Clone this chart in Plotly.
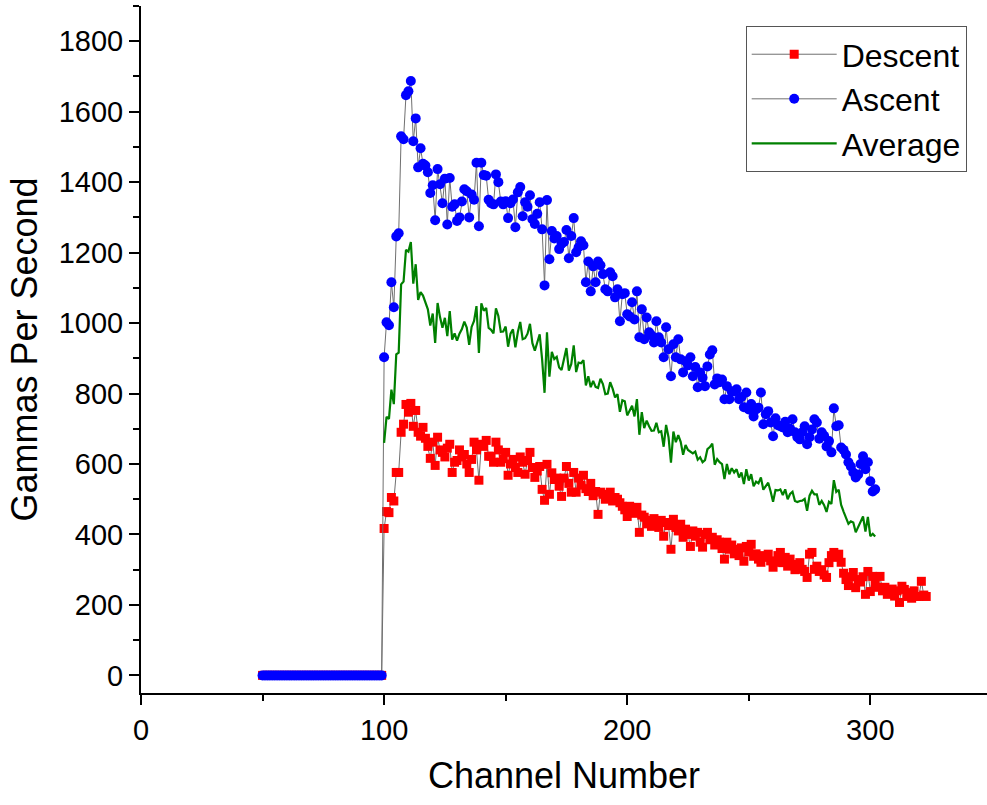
import plotly.graph_objects as go

# ---------------- data ----------------
zero_channels = list(range(50, 100))
zero_counts = [0, 0, 0, 0, 0, 0, 0, 0, 0, 0,
               0, 0, 0, 0, 0, 0, 0, 0, 0, 0,
               0, 0, 0, 0, 0, 0, 0, 0, 0, 0,
               0, 0, 0, 0, 0, 0, 0, 0, 0, 0,
               0, 0, 0, 0, 0, 0, 0, 0, 0, 0]

ascent_active = [
    903, 1002, 994, 1116, 1045, 1246, 1255, 1530, 1522, 1647,
    1658, 1687, 1516, 1581, 1442, 1496, 1452, 1447, 1428, 1369,
    1391, 1292, 1437, 1394, 1340, 1410, 1280, 1412, 1330, 1337,
    1290, 1300, 1345, 1380, 1374, 1300, 1365, 1350, 1455, 1275,
    1455, 1420, 1418, 1350, 1340, 1337, 1422, 1400, 1345, 1337,
    1346, 1298, 1340, 1351, 1272, 1371, 1386, 1303, 1343, 1330,
    1363, 1295, 1281, 1310, 1343, 1266, 1107, 1349, 1181, 1261,
    1240, 1247, 1210, 1225, 1230, 1264, 1184, 1247, 1298, 1201,
    1215, 1232, 1221, 1116, 1175, 1090, 1161, 1116, 1175, 1164,
    1139, 1096, 1090, 1144, 1133, 1073, 1096, 1005, 1082, 1085,
    1025, 1019, 1059, 1010, 1090, 960, 1039, 954, 1016, 974,
    965, 945, 1005, 960, 945, 903, 988, 926, 849, 940,
    903, 954, 897, 860, 892, 880, 903, 849, 875, 818,
    860, 845, 821, 877, 911, 923, 826, 843, 832, 840,
    784, 821, 784, 806, 806, 812, 784, 790, 761, 803,
    755, 770, 735, 755, 760, 803, 713, 741, 750, 718,
    679, 730, 710, 707, 704, 720, 690, 700, 727, 690,
    676, 670, 690, 707, 656, 676, 698, 727, 718, 672,
    690, 680, 650, 665, 633, 758, 707, 710, 647, 640,
    627, 605, 593, 576, 562, 570, 600, 622, 585, 605,
    551, 522, 528]

descent_active = [
    417, 465, 462, 505, 495, 576, 576, 690, 713, 769,
    747, 772, 707, 752, 690, 679, 704, 673, 650, 616,
    662, 596, 676, 640, 633, 620, 645, 656, 576, 605,
    610, 640, 620, 627, 600, 576, 613, 662, 640, 554,
    656, 650, 667, 622, 622, 605, 662, 640, 605, 615,
    633, 568, 600, 613, 590, 576, 620, 605, 571, 610,
    633, 590, 562, 580, 593, 528, 497, 599, 514, 575,
    556, 560, 537, 508, 560, 593, 545, 520, 576, 520,
    560, 540, 568, 530, 522, 545, 510, 522, 457, 520,
    514, 500, 510, 520, 495, 505, 500, 490, 480, 470,
    451, 480, 471, 460, 477, 406, 455, 449, 430, 440,
    423, 445, 429, 420, 440, 395, 434, 425, 358, 443,
    420, 410, 429, 392, 415, 400, 366, 410, 395, 406,
    378, 364, 400, 406, 385, 392, 370, 385, 378, 360,
    330, 378, 358, 370, 345, 358, 340, 362, 324, 366,
    350, 372, 338, 345, 330, 321, 340, 335, 344, 325,
    307, 321, 340, 349, 320, 335, 310, 330, 315, 300,
    307, 320, 301, 295, 278, 344, 349, 301, 310, 295,
    300, 285, 278, 320, 340, 349, 335, 344, 321, 290,
    272, 255, 280, 292, 249, 272, 265, 280, 230, 295,
    238, 281, 260, 250, 281, 240, 250, 230, 236, 245,
    225, 240, 207, 253, 244, 224, 235, 219, 240, 224,
    224, 267, 228, 224]

average_values = [
    660, 734, 728, 811, 770, 911, 916, 1110, 1118, 1208,
    1203, 1230, 1112, 1167, 1066, 1088, 1078, 1060, 1039, 993,
    1027, 944, 1057, 1017, 987, 1015, 963, 1034, 953, 971,
    950, 970, 983, 1004, 987, 938, 989, 1006, 1048, 915,
    1056, 1035, 1043, 986, 981, 971, 1042, 1020, 975, 976,
    990, 933, 970, 982, 931, 974, 1003, 954, 957, 970,
    998, 943, 922, 945, 968, 897, 802, 974, 848, 918,
    898, 904, 874, 867, 895, 929, 865, 884, 937, 861,
    888, 886, 895, 823, 849, 818, 836, 819, 816, 842,
    827, 798, 800, 832, 814, 789, 798, 748, 781, 778,
    738, 750, 765, 735, 784, 683, 747, 702, 723, 707,
    694, 695, 717, 690, 693, 649, 711, 676, 604, 692,
    662, 682, 663, 626, 654, 640, 635, 630, 635, 612,
    619, 605, 611, 642, 648, 658, 598, 614, 605, 600,
    557, 600, 571, 588, 576, 585, 562, 576, 543, 585,
    553, 571, 537, 550, 545, 562, 527, 538, 547, 522,
    493, 526, 525, 528, 512, 528, 500, 515, 521, 495,
    492, 495, 496, 501, 467, 510, 524, 514, 514, 484,
    495, 483, 464, 493, 487, 554, 521, 527, 484, 465,
    450, 430, 437, 434, 406, 421, 433, 451, 408, 450,
    395, 402, 394]

ascent_channels = zero_channels + list(range(100, 100 + len(ascent_active)))
ascent_counts = zero_counts + ascent_active
descent_channels = zero_channels + list(range(100, 100 + len(descent_active)))
descent_counts = zero_counts + descent_active
average_channels = list(range(100, 100 + len(average_values)))

x_ticks = [0, 100, 200, 300]
y_ticks = [0, 200, 400, 600, 800, 1000, 1200, 1400, 1600, 1800]

FONT = "Liberation Sans, Arial, sans-serif"
LINK = "#707070"

fig = go.Figure()
fig.add_trace(go.Scatter(
    x=descent_channels, y=descent_counts, name="Descent",
    mode="lines+markers",
    line=dict(color=LINK, width=1),
    marker=dict(symbol="square", color="#ff0000", size=9, line=dict(width=0)),
))
fig.add_trace(go.Scatter(
    x=ascent_channels, y=ascent_counts, name="Ascent",
    mode="lines+markers",
    line=dict(color=LINK, width=1),
    marker=dict(symbol="circle", color="#0000ff", size=10, line=dict(width=0)),
))
fig.add_trace(go.Scatter(
    x=average_channels, y=average_values, name="Average",
    mode="lines",
    line=dict(color="#008000", width=2.2),
))

axis_common = dict(
    showgrid=False, zeroline=False, showline=True, linecolor="black", linewidth=2,
    ticks="outside", ticklen=10, tickwidth=2, tickcolor="black",
    tickfont=dict(family=FONT, size=29, color="black"),
    mirror=False,
)

fig.update_layout(
    width=987, height=805,
    margin=dict(l=141, r=0, t=6, b=112),
    paper_bgcolor="white", plot_bgcolor="white",
    font=dict(family=FONT, color="black"),
    xaxis=dict(
        range=[0, 348], tickvals=x_ticks, ticktext=[str(v) for v in x_ticks],
        minor=dict(dtick=50, tick0=0, ticks="outside", ticklen=6, tickwidth=2, tickcolor="black"),
        title=dict(text="Channel Number", font=dict(family=FONT, size=36), standoff=18),
        **axis_common,
    ),
    yaxis=dict(
        range=[-50, 1900], tickvals=y_ticks, ticktext=[str(v) for v in y_ticks],
        minor=dict(dtick=100, tick0=0, ticks="outside", ticklen=6, tickwidth=2, tickcolor="black"),
        title=dict(text="Gammas Per Second", font=dict(family=FONT, size=36), standoff=10),
        **axis_common,
    ),
    legend=dict(
        x=0.976, y=0.971, xanchor="right", yanchor="top",
        bgcolor="white", bordercolor="#555555", borderwidth=1,
        font=dict(family=FONT, size=32, color="black"),
        tracegroupgap=0, itemwidth=85,
    ),
    showlegend=True,
)

fig.write_html("out.html")
